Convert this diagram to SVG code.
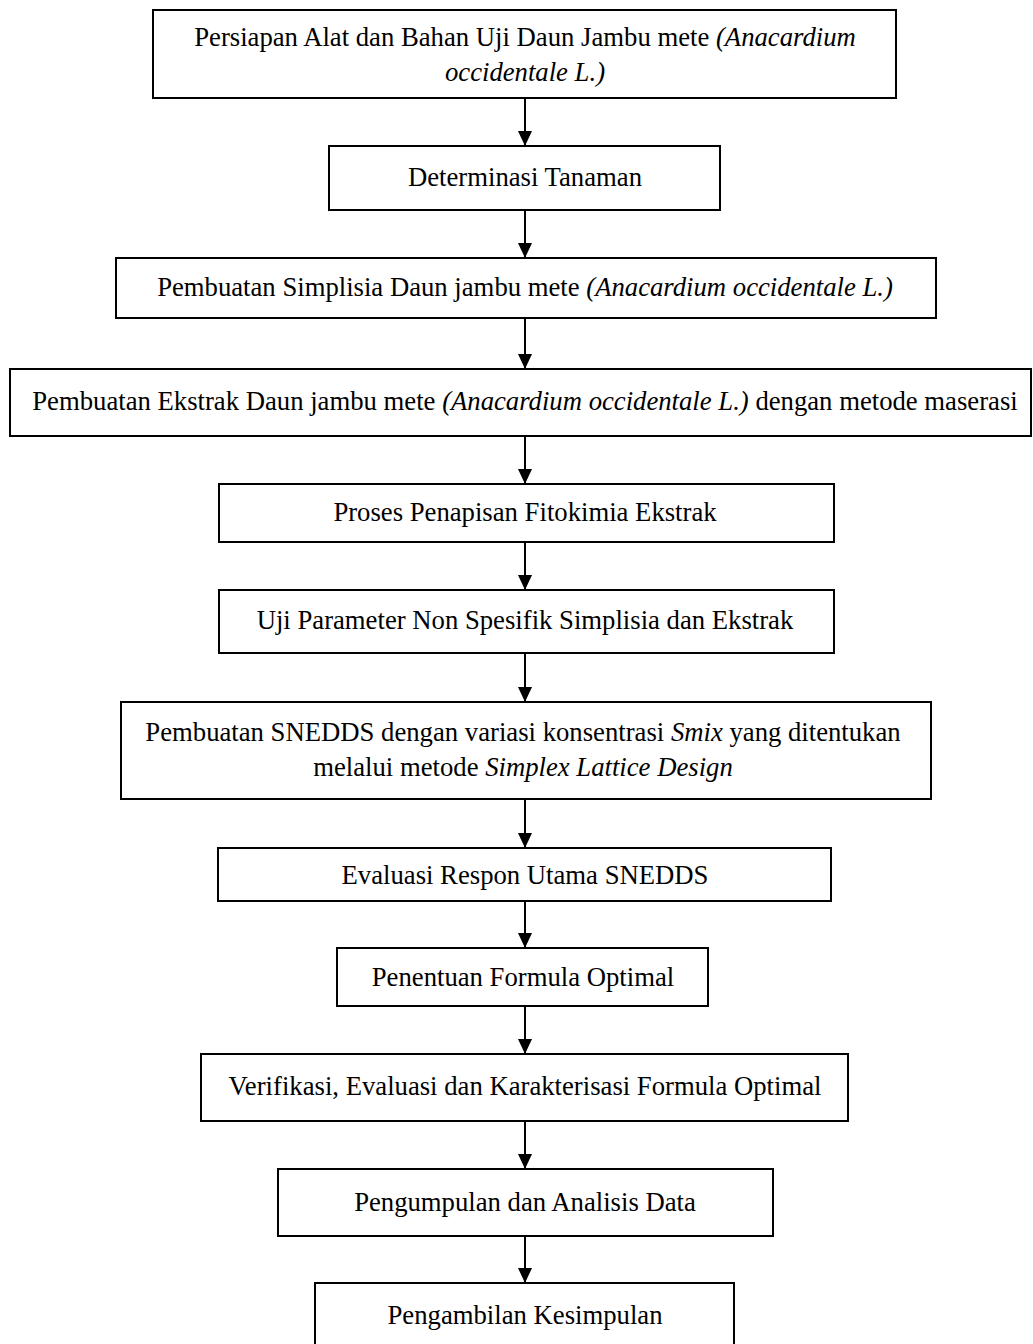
<svg xmlns="http://www.w3.org/2000/svg" width="1033" height="1344" viewBox="0 0 1033 1344">
<style>
.box{fill:#fff;stroke:#000;stroke-width:2}
.t{font-family:"Liberation Serif","Times New Roman",serif;font-size:26.7px;fill:#000;text-anchor:middle}
.i{font-style:italic}
.c{stroke:#000;stroke-width:2;fill:none}
.h{fill:#000}
</style>
<rect width="1033" height="1344" fill="#fff"/>
<g id="connectors">
<path class="c" d="M525,98 V146"/>
<path class="h" d="M518,131 L532,131 L525,146 Z"/>
<path class="c" d="M525,210 V258"/>
<path class="h" d="M518,243 L532,243 L525,258 Z"/>
<path class="c" d="M525,318 V369"/>
<path class="h" d="M518,354 L532,354 L525,369 Z"/>
<path class="c" d="M525,436 V484"/>
<path class="h" d="M518,469 L532,469 L525,484 Z"/>
<path class="c" d="M525,542 V590"/>
<path class="h" d="M518,575 L532,575 L525,590 Z"/>
<path class="c" d="M525,653 V702"/>
<path class="h" d="M518,687 L532,687 L525,702 Z"/>
<path class="c" d="M525,799 V848"/>
<path class="h" d="M518,833 L532,833 L525,848 Z"/>
<path class="c" d="M525,901 V948"/>
<path class="h" d="M518,933 L532,933 L525,948 Z"/>
<path class="c" d="M525,1006 V1054"/>
<path class="h" d="M518,1039 L532,1039 L525,1054 Z"/>
<path class="c" d="M525,1121 V1169"/>
<path class="h" d="M518,1154 L532,1154 L525,1169 Z"/>
<path class="c" d="M525,1236 V1283"/>
<path class="h" d="M518,1268 L532,1268 L525,1283 Z"/>
</g>
<g id="n1"><rect class="box" x="153" y="10" width="743" height="88"/>
<text class="t" x="525" y="46">Persiapan Alat dan Bahan Uji Daun Jambu mete <tspan class="i">(Anacardium</tspan></text>
<text class="t i" x="525" y="81">occidentale L.)</text></g>
<g id="n2"><rect class="box" x="329" y="146" width="391" height="64"/>
<text class="t" x="525" y="186">Determinasi Tanaman</text></g>
<g id="n3"><rect class="box" x="116" y="258" width="820" height="60"/>
<text class="t" x="525" y="296">Pembuatan Simplisia Daun jambu mete <tspan class="i">(Anacardium occidentale L.)</tspan></text></g>
<g id="n4"><rect class="box" x="10" y="369" width="1021" height="67"/>
<text class="t" x="525" y="410">Pembuatan Ekstrak Daun jambu mete <tspan class="i">(Anacardium occidentale L.)</tspan> dengan metode maserasi</text></g>
<g id="n5"><rect class="box" x="219" y="484" width="615" height="58"/>
<text class="t" x="525" y="521">Proses Penapisan Fitokimia Ekstrak</text></g>
<g id="n6"><rect class="box" x="219" y="590" width="615" height="63"/>
<text class="t" x="525" y="629">Uji Parameter Non Spesifik Simplisia dan Ekstrak</text></g>
<g id="n7"><rect class="box" x="121" y="702" width="810" height="97"/>
<text class="t" x="523" y="741">Pembuatan SNEDDS dengan variasi konsentrasi <tspan class="i">Smix</tspan> yang ditentukan</text>
<text class="t" x="523" y="776">melalui metode <tspan class="i">Simplex Lattice Design</tspan></text></g>
<g id="n8"><rect class="box" x="218" y="848" width="613" height="53"/>
<text class="t" x="525" y="884">Evaluasi Respon Utama SNEDDS</text></g>
<g id="n9"><rect class="box" x="337" y="948" width="371" height="58"/>
<text class="t" x="523" y="986">Penentuan Formula Optimal</text></g>
<g id="n10"><rect class="box" x="201" y="1054" width="647" height="67"/>
<text class="t" x="525" y="1095">Verifikasi, Evaluasi dan Karakterisasi Formula Optimal</text></g>
<g id="n11"><rect class="box" x="278" y="1169" width="495" height="67"/>
<text class="t" x="525" y="1211">Pengumpulan dan Analisis Data</text></g>
<g id="n12"><rect class="box" x="315" y="1283" width="419" height="70"/>
<text class="t" x="525" y="1324">Pengambilan Kesimpulan</text></g>
</svg>
